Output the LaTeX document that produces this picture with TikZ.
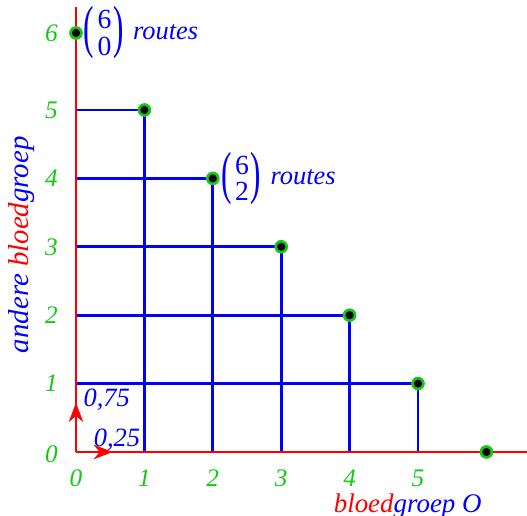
\documentclass[tikz,border=0pt]{standalone}
\usepackage{graphicx}
\usepackage{fontspec}
\setmainfont{Liberation Serif}
\usetikzlibrary{arrows.meta}
\definecolor{tickgreen}{RGB}{20,200,20}
\tikzset{
  axis/.style={red, line width=1.2pt},
  grid/.style={blue, line width=1.2pt},
  tick/.style={tickgreen, font=\fontsize{10.5}{12}\selectfont\itshape},
  lab/.style={blue, font=\fontsize{11}{13}\selectfont\itshape},
  dotg/.style={circle, fill=tickgreen, inner sep=0pt, minimum size=2mm},
  dotb/.style={circle, fill=black, inner sep=0pt, minimum size=1.2mm},
  arr/.style={-{Stealth[length=8pt,width=6pt,inset=2.5pt]}},
}
\newcommand{\bparen}[1]{\vcenter{\hbox{\fontsize{10}{10}\selectfont\upshape\scalebox{1.3}[2.42]{#1}}}}
\newcommand{\bnm}[2]{$\bparen{(}\kern1.3pt\vcenter{\hbox{\fontsize{11.5}{11}\selectfont\upshape\vbox{\baselineskip=11pt\hbox{#1}\hbox{#2}}}}\kern0.7pt\bparen{)}$}
\begin{document}
\begin{tikzpicture}[x=1cm,y=1cm]
\useasboundingbox (-1.111,-0.936) rectangle (6.594,6.608);
% grid
\foreach \k in {1,...,5}{
  \pgfmathtruncatemacro{\m}{6-\k}
  \draw[grid] (0,\k) -- (\m,\k);
  \draw[grid] (\k,0) -- (\k,\m);
}
% axes
\coordinate (O) at (0,0);
\coordinate (Ytop) at (0,6.506);
\coordinate (Xend) at (6.594,0);
\draw[axis] (O) -- (Ytop);
\draw[axis] (O) -- (Xend);
\coordinate (Ay) at (0,0.72);
\coordinate (Ax) at (0.54,0);
\draw[axis, arr] (O) -- (Ay);
\draw[axis, arr] (O) -- (Ax);
% dots
\foreach \n/\x/\y in {p0/0/6.126,p1/1/5,p2/2/4,p3/3/3,p4/4/2,p5/5/1,p6/6/0}{
  \node[dotg] (\n) at (\x,\y) {};
  \node[dotb] at (\x,\y) {};
}
% tick labels
\foreach \n/\y in {0/-0.04,1/1,2/2,3/3,4/4,5/5}{
  \node[tick] (ty\n) at (-0.36,\y) {\n};
}
\node[tick] (ty6) at (-0.36,6.126) {6};
\foreach \n in {0,...,5}{
  \node[tick] (tx\n) at (\n,-0.38) {\n};
}
% small labels
\node[lab] (l75) at (0.45,0.77) {0,75};
\node[lab] (l25) at (0.6,0.18) {0,25};
% binomial labels
\node[lab, anchor=west, inner sep=0pt] (b0) at (0.11,6.126) {\bnm{6}{0}\hspace{4pt}routes};
\node[lab, anchor=west, inner sep=0pt] (b2) at (2.12,4.0) {\bnm{6}{2}\hspace{4pt}routes};
% axis titles
\node[lab, font=\fontsize{11.2}{13}\selectfont\itshape, inner sep=1pt] (xt) at (4.85,-0.79) {\textcolor{red}{bloed}groep O};
\node[lab, font=\fontsize{12}{14}\selectfont\itshape, rotate=90] (yt) at (-0.8,3.03) {andere \textcolor{red}{bloed}groep};
\end{tikzpicture}
\end{document}
